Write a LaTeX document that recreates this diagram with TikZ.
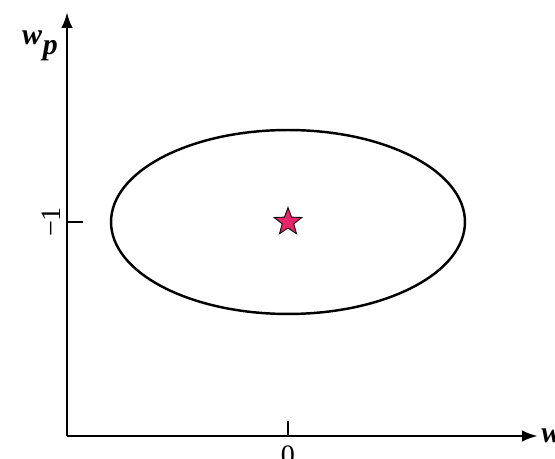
\documentclass[tikz,border=0pt]{standalone}
\usepackage{fontspec}
\setmainfont{Liberation Serif}
\usetikzlibrary{shapes.geometric,arrows.meta}
\definecolor{starpink}{RGB}{232,38,106}

\begin{document}
\begin{tikzpicture}[x=0.02cm,y=-0.02cm]

\tikzstyle{AXIS} = [line width=1.5pt, -{Latex[length=9pt,width=6.5pt]}]
\tikzstyle{TICK} = [line width=1.5pt]
\tikzstyle{LABEL} = [font=\fontsize{17}{20}\selectfont\bfseries\itshape, inner sep=0pt]
\tikzstyle{NUM} = [font=\fontsize{16}{19}\selectfont, inner sep=0pt]
\tikzstyle{REGION} = [ellipse, draw=black, line width=1.4pt, minimum width=7.08cm, minimum height=3.68cm, inner sep=0pt]
\tikzstyle{OPT} = [star, star points=5, star point ratio=2.4, minimum size=0.58cm, inner sep=0pt, fill=starpink, draw=black, line width=0.5pt]

\useasboundingbox (0,0) rectangle (555,459);

\coordinate (origin) at (67,436);
\coordinate (ytop) at (67,12);
\coordinate (xend) at (538,436);
\coordinate (xtick) at (288,436);
\coordinate (ytick) at (67,222);

\draw[AXIS] (origin) -- (ytop);
\draw[AXIS] (origin) -- (xend);
\draw[TICK] (xtick) -- ++(0,-15);
\draw[TICK] (ytick) -- ++(16,0);

\node (wp) [LABEL] at (40,46) {w\kern0.5pt\raisebox{-0.7ex}{p}};
\node (w) [LABEL, anchor=west] at (541,436) {w};
\node (zero) [NUM, anchor=north] at (288,445) {0};
\node (minusone) [NUM, rotate=90] at (51,222) {−1};

\node (region) [REGION] at (288,222) {};
\node (opt) [OPT] at (region.center) {};

\end{tikzpicture}
\end{document}
